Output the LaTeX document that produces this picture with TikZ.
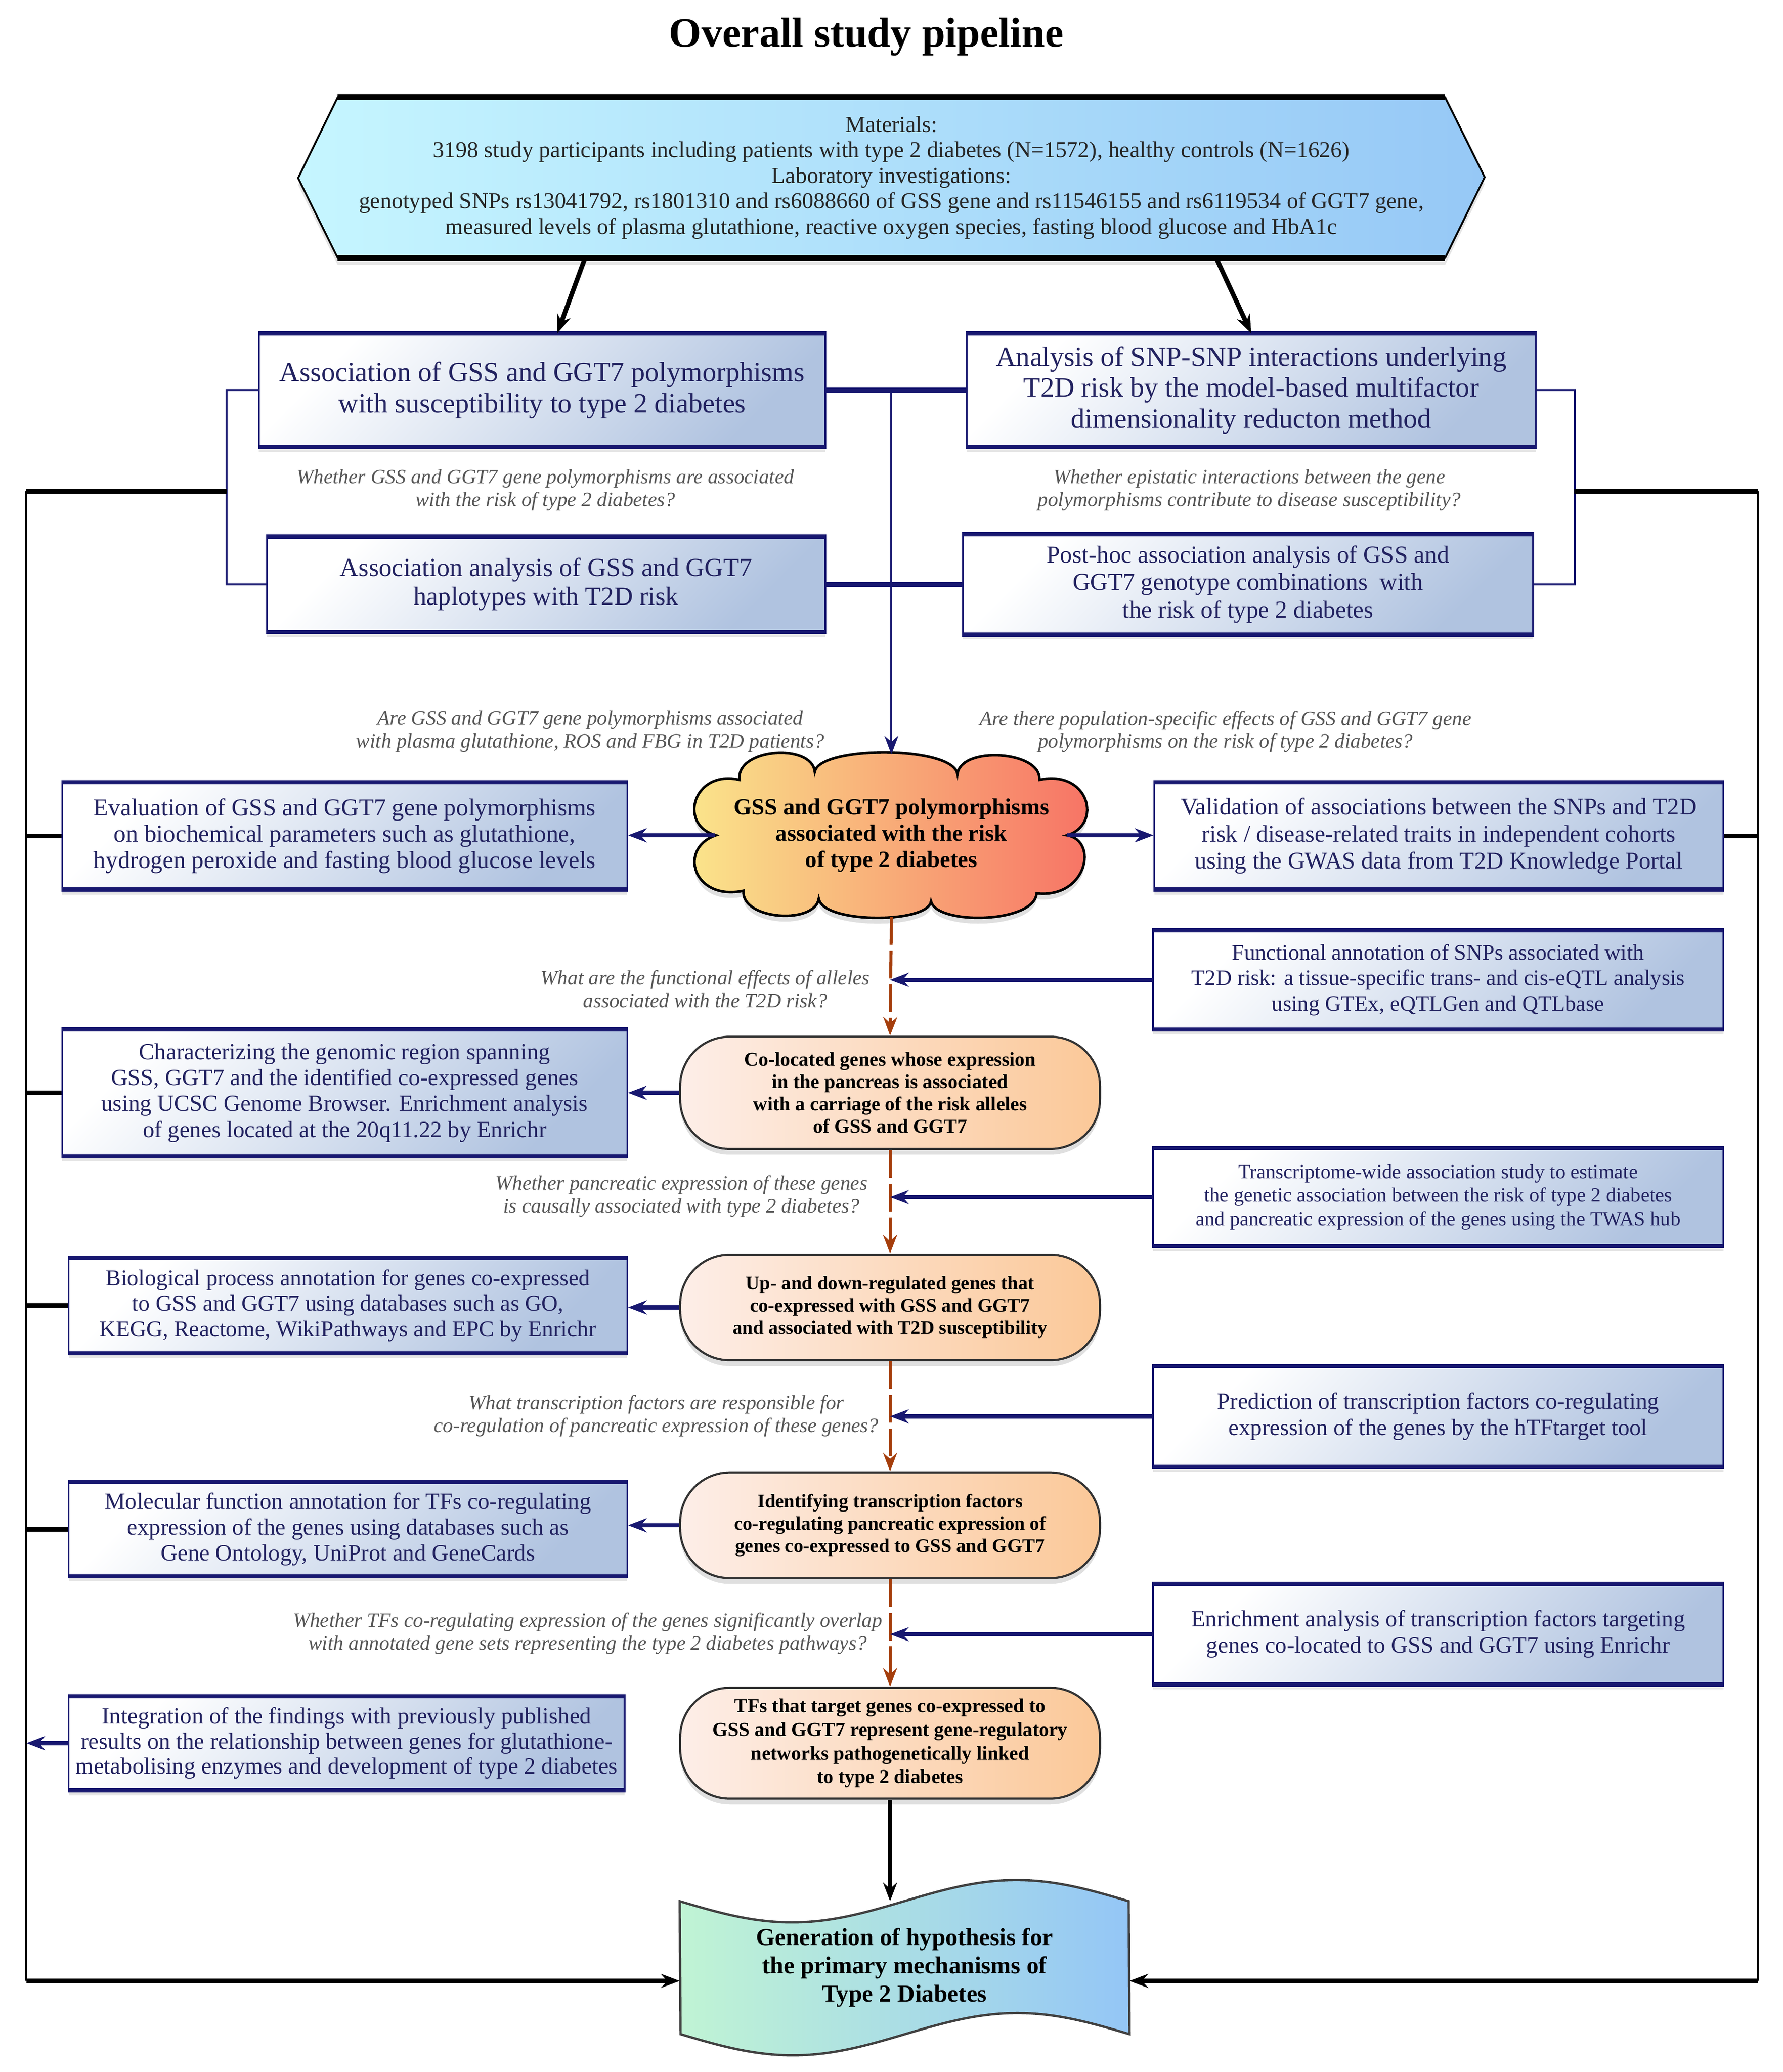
\documentclass[tikz,border=0pt]{standalone}
\usepackage{fontspec}
\setmainfont{Liberation Serif}
\usetikzlibrary{shadows,arrows.meta,backgrounds}

\newcommand{\setfs}[2]{\fontsize{#1}{#2}\selectfont}

\definecolor{navyline}{RGB}{24,24,112}
\definecolor{boxtext}{RGB}{34,34,96}
\definecolor{boxblue}{RGB}{176,195,224}
\definecolor{matleft}{RGB}{198,246,255}
\definecolor{matright}{RGB}{150,200,246}
\definecolor{cloudleft}{RGB}{250,232,140}
\definecolor{cloudright}{RGB}{247,112,100}
\definecolor{termleft}{RGB}{253,238,232}
\definecolor{termright}{RGB}{251,200,152}
\definecolor{hypleft}{RGB}{192,244,212}
\definecolor{hypright}{RGB}{148,198,246}
\definecolor{rustline}{RGB}{165,62,12}
\definecolor{qgray}{RGB}{85,85,85}

\begin{document}
\begin{tikzpicture}[x=0.02cm, y=-0.02cm, >={Stealth[length=8pt,width=6pt]},
    infobox/.style={draw=navyline, line width=0.7pt, rectangle, top color=white, bottom color=boxblue, shading angle=45, text=boxtext, align=center, inner sep=1pt, drop shadow={opacity=0.2, shadow xshift=0pt, shadow yshift=-2.5pt}},
    termbox/.style={draw=black!80, line width=0.9pt, rectangle, rounded corners=0.75cm, left color=termleft, right color=termright, align=center, minimum width=6.36cm, inner sep=0pt, drop shadow={opacity=0.25, shadow xshift=0pt, shadow yshift=-2.5pt}},
    question/.style={text=qgray, align=center, font=\itshape\setfs{8.8}{9.8}},
    feedarrow/.style={->, navyline, line width=1.8pt},
    linkline/.style={navyline, line width=0.9pt},
    crossbar/.style={navyline, line width=2.2pt},
    flowline/.style={->, rustline, line width=1.3pt, dash pattern=on 12pt off 2.5pt},
    frameline/.style={black, line width=0.9pt},
    stubline/.style={black, line width=2pt},
    bigarrow/.style={->, black, line width=2pt},
    rimline/.style={navyline, line width=1.8pt}
  ]
  \useasboundingbox (0,0) rectangle (1350,1569);

  % Title
  \node[font=\bfseries\setfs{18}{20}] (title) at (656,28) {Overall study pipeline};

  % Materials
  \node[align=center, minimum width=16.76cm, minimum height=2.42cm, inner sep=0pt, text=black!85, font=\setfs{9.8}{11}] (materials) at (675,134.5)
    {Materials:\\
     3198 study participants including patients with type 2 diabetes (N=1572), healthy controls (N=1626)\\
     Laboratory investigations:\\
     genotyped SNPs rs13041792, rs1801310 and rs6088660 of GSS gene and rs11546155 and rs6119534 of GGT7 gene,\\
     measured levels of plasma glutathione, reactive oxygen species, fasting blood glucose and HbA1c};

  % Association studies
  \node[infobox, minimum width=8.58cm, minimum height=1.7cm, font=\setfs{12}{13.6}] (assoc) at (410.5,295.5)
    {Association of GSS and GGT7 polymorphisms\\with susceptibility to type 2 diabetes};
  \node[infobox, minimum width=8.62cm, minimum height=1.7cm, font=\setfs{12}{13.4}] (snpint) at (947.5,295.5)
    {Analysis of SNP-SNP interactions underlying\\T2D risk by the model-based multifactor\\dimensionality reducton method};
  \node[question] (q1) at (413,371) {Whether GSS and GGT7 gene polymorphisms are associated\\with the risk of type 2 diabetes?};
  \node[question] (q2) at (946,371) {Whether epistatic interactions between the gene\\polymorphisms contribute to disease susceptibility?};
  \node[infobox, minimum width=8.46cm, minimum height=1.42cm, font=\setfs{11.2}{12.5}] (haplo) at (413.5,442.5)
    {Association analysis of GSS and GGT7\\haplotypes with T2D risk};
  \node[infobox, minimum width=8.64cm, minimum height=1.5cm, font=\setfs{10.5}{11.9}] (posthoc) at (945,442.5)
    {Post-hoc association analysis of GSS and\\GGT7 genotype combinations~ with\\the risk of type 2 diabetes};

  % Central finding
  \node[question] (q3) at (447,554) {Are GSS and GGT7 gene polymorphisms associated\\with plasma glutathione, ROS and FBG in T2D patients?};
  \node[question] (q4) at (928,554) {Are there population-specific effects of GSS and GGT7 gene\\polymorphisms on the risk of type 2 diabetes?};
  \node[align=center, minimum width=5.9cm, minimum height=2.5cm, inner sep=0pt, font=\bfseries\setfs{10}{11.3}] (polym) at (675,632.5)
    {GSS and GGT7 polymorphisms\\associated with the risk\\of type 2 diabetes};
  \node[infobox, minimum width=8.56cm, minimum height=1.6cm, font=\setfs{10.5}{11.4}] (evalbox) at (261,633)
    {Evaluation of GSS and GGT7 gene polymorphisms\\on biochemical parameters such as glutathione,\\hydrogen peroxide and fasting blood glucose levels};
  \node[infobox, minimum width=8.62cm, minimum height=1.6cm, font=\setfs{10.3}{11.6}] (valid) at (1089.5,633)
    {Validation of associations between the SNPs and T2D\\risk / disease-related traits in independent cohorts\\using the GWAS data from T2D Knowledge Portal};

  % Main column
  \node[infobox, minimum width=8.64cm, minimum height=1.48cm, font=\setfs{9.5}{11}] (eqtl) at (1089,742)
    {Functional annotation of SNPs associated with\\T2D risk: a tissue-specific trans- and cis-eQTL analysis\\using GTEx, eQTLGen and QTLbase};
  \node[question] (q5) at (534,749) {What are the functional effects of alleles\\associated with the T2D risk?};
  \node[termbox, minimum height=1.7cm, font=\bfseries\setfs{8.5}{9.6}] (coloc) at (674,827.5)
    {Co-located genes whose expression\\in the pancreas is associated\\with a carriage of the risk alleles\\of GSS and GGT7};
  \node[infobox, minimum width=8.56cm, minimum height=1.9cm, font=\setfs{10}{11.2}] (region) at (261,827.5)
    {Characterizing the genomic region spanning\\GSS, GGT7 and the identified co-expressed genes\\using UCSC Genome Browser. Enrichment analysis\\of genes located at the 20q11.22 by Enrichr};

  \node[infobox, minimum width=8.64cm, minimum height=1.46cm, font=\setfs{8.7}{10.2}] (twas) at (1089,906.5)
    {Transcriptome-wide association study to estimate\\the genetic association between the risk of type 2 diabetes\\and pancreatic expression of the genes using the TWAS hub};
  \node[question] (q6) at (516,906) {Whether pancreatic expression of these genes\\is causally associated with type 2 diabetes?};
  \node[termbox, minimum height=1.6cm, font=\bfseries\setfs{8.3}{9.6}] (updown) at (674,990)
    {Up- and down-regulated genes that\\co-expressed with GSS and GGT7\\and associated with T2D susceptibility};
  \node[infobox, minimum width=8.46cm, minimum height=1.42cm, font=\setfs{9.8}{11}] (bioproc) at (263.5,988.5)
    {Biological process annotation for genes co-expressed\\to GSS and GGT7 using databases such as GO,\\KEGG, Reactome, WikiPathways and EPC by Enrichr};

  \node[infobox, minimum width=8.64cm, minimum height=1.5cm, font=\setfs{10}{11.3}] (tfpred) at (1089,1072.5)
    {Prediction of transcription factors co-regulating\\expression of the genes by the hTFtarget tool};
  \node[question] (q7) at (497,1072) {What transcription factors are responsible for\\co-regulation of pancreatic expression of these genes?};
  \node[termbox, minimum height=1.6cm, font=\bfseries\setfs{8.3}{9.6}] (tfid) at (674,1155)
    {Identifying transcription factors\\co-regulating pancreatic expression of\\genes co-expressed to GSS and GGT7};
  \node[infobox, minimum width=8.46cm, minimum height=1.4cm, font=\setfs{10}{11.1}] (molfun) at (263.5,1158)
    {Molecular function annotation for TFs co-regulating\\expression of the genes using databases such as\\Gene Ontology, UniProt and GeneCards};

  \node[infobox, minimum width=8.64cm, minimum height=1.5cm, font=\setfs{10}{11.3}] (tfenrich) at (1089,1237.5)
    {Enrichment analysis of transcription factors targeting\\genes co-located to GSS and GGT7 using Enrichr};
  \node[question] (q8) at (445,1237) {Whether TFs co-regulating expression of the genes significantly overlap\\with annotated gene sets representing the type 2 diabetes pathways?};
  \node[termbox, minimum height=1.68cm, font=\bfseries\setfs{8.5}{10.2}] (tfnet) at (674,1320)
    {TFs that target genes co-expressed to\\GSS and GGT7 represent gene-regulatory\\networks pathogenetically linked\\to type 2 diabetes};
  \node[infobox, minimum width=8.42cm, minimum height=1.4cm, font=\setfs{10}{10.8}] (integ) at (262.5,1320)
    {Integration of the findings with previously published\\results on the relationship between genes for glutathione-\\metabolising enzymes and development of type 2 diabetes};

  % Hypothesis
  \node[align=center, minimum width=6.8cm, minimum height=2cm, inner sep=0pt, font=\bfseries\setfs{10.5}{12.2}] (hypo) at (685,1490)
    {Generation of hypothesis for\\the primary mechanisms of\\Type 2 Diabetes};

  % Shapes drawn behind
  \begin{scope}[on background layer]
    \fill[white] (0,0) rectangle (1350,1569);
    \shadedraw[left color=matleft, right color=matright, draw=black, line width=0.8pt, drop shadow={opacity=0.2, shadow xshift=0pt, shadow yshift=-3pt}]
      (materials.north west) -- (materials.north east) -- ++(30,60.5) -- (materials.south east)
      -- (materials.south west) -- ++(-30,-60.5) -- cycle;
    \shadedraw[left color=hypleft, right color=hypright, draw=black!75, line width=1pt]
      (hypo.north west) sin ++(85,16) cos ++(85,-16) sin ++(85,-16) cos ++(85,16)
      -- (hypo.south east) sin ++(-85,-16) cos ++(-85,16) sin ++(-85,16) cos ++(-85,-16) -- cycle;
    \begin{scope}[shift={(polym.center)}]
      % cloud outline
      \shadedraw[left color=cloudleft, right color=cloudright, draw=black, line width=1.1pt, drop shadow={opacity=0.25, shadow xshift=0pt, shadow yshift=-2.5pt}]
        (133,0) .. controls (157,4) and (148,48) .. (110,44)
        .. controls (108,67) and (34,68) .. (30,50)
        .. controls (28,67) and (-52,67) .. (-55,48)
        .. controls (-58,68) and (-114,64) .. (-112,42)
        .. controls (-150,50) and (-162,10) .. (-133,0)
        .. controls (-162,-8) and (-150,-50) .. (-115,-42)
        .. controls (-118,-66) and (-60,-70) .. (-58,-48)
        .. controls (-55,-68) and (48,-68) .. (50,-46)
        .. controls (52,-68) and (114,-64) .. (112,-42)
        .. controls (150,-50) and (160,-8) .. (133,0) -- cycle;
    \end{scope}
  \end{scope}
  \draw[black, line width=2.5pt] (materials.north west) -- (materials.north east) (materials.south west) -- (materials.south east);
  \foreach \n in {assoc,snpint,haplo,posthoc,evalbox,valid,eqtl,region,twas,bioproc,tfpred,molfun,tfenrich,integ}
    \draw[rimline] (\n.north west) -- (\n.north east) (\n.south west) -- (\n.south east);

  % Frame coordinates
  \coordinate (hub) at (675,295.5);
  \coordinate (ltop) at (20,372);
  \coordinate (lbot) at (20,1500);
  \coordinate (rtop) at (1331,372);
  \coordinate (rbot) at (1331,1500);

  % Connections
  \draw[bigarrow] ([xshift=-4.64cm]materials.south) -- ([xshift=0.23cm]assoc.north);
  \draw[bigarrow] ([xshift=4.92cm]materials.south) -- (snpint.north);
  \draw[crossbar] (assoc.east) -- (snpint.west);
  \draw[crossbar] (haplo.east) -- (posthoc.west);
  \draw[linkline] (assoc.west) -- ++(-24,0) |- (haplo.west);
  \draw[linkline] (snpint.east) -- ++(29,0) |- (posthoc.east);
  \draw[linkline, ->] (hub) -- ([yshift=-0.03cm]polym.north);
  \draw[feedarrow] ([xshift=0.29cm]polym.west) -- (polym.west -| evalbox.east);
  \draw[feedarrow] ([xshift=-0.29cm]polym.east) -- (polym.east -| valid.west);

  \draw[flowline] ([yshift=0.02cm]polym.south) -- (coloc.north);
  \draw[flowline] (coloc.south) -- (updown.north);
  \draw[flowline] (updown.south) -- (tfid.north);
  \draw[flowline] (tfid.south) -- (tfnet.north);
  \draw[bigarrow] (tfnet.south) -- (tfnet.south |- hypo.north);

  \foreach \n in {eqtl,twas,tfpred,tfenrich}
    \draw[feedarrow] (\n.west) -- (\n.west -| coloc.north);
  \draw[feedarrow] (coloc.west) -- (coloc.west -| region.east);
  \draw[feedarrow] (updown.west) -- (updown.west -| bioproc.east);
  \draw[feedarrow] (tfid.west) -- (tfid.west -| molfun.east);

  % Outer frame
  \draw[stubline] (ltop) -- ++(152,0);
  \draw[frameline] (ltop) -- (lbot);
  \foreach \n in {evalbox,region,bioproc,molfun}
    \draw[stubline] (\n.west) -- (\n.west -| ltop);
  \draw[feedarrow] (integ.west) -- (integ.west -| ltop);
  \draw[bigarrow] (lbot) -- ([yshift=-0.2cm]hypo.west);
  \draw[stubline] (rtop) -- ++(-139,0);
  \draw[frameline] (rtop) -- (rbot);
  \draw[stubline] (valid.east) -- (valid.east -| rtop);
  \draw[bigarrow] (rbot) -- ([yshift=-0.2cm]hypo.east);
\end{tikzpicture}
\end{document}
